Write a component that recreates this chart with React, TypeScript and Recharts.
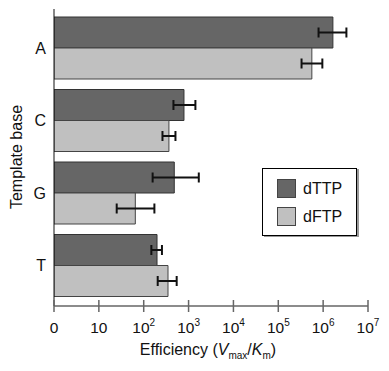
import React from "react"
import { BarChart, Bar, XAxis, YAxis, ErrorBar } from "recharts"

const categories = ["A", "C", "G", "T"]
const dTTP = [1.65e6, 790, 480, 198]
const dTTPLow = [7.9e5, 460, 158, 148]
const dTTPHigh = [3.3e6, 1420, 1690, 255]
const dFTP = [5.6e5, 365, 65, 348]
const dFTPLow = [3.3e5, 262, 25, 205]
const dFTPHigh = [9.6e5, 510, 173, 543]

const xTicks = [1, 10, 100, 1e3, 1e4, 1e5, 1e6, 1e7]
const tickBase = ["0", "10", "10", "10", "10", "10", "10", "10"]
const tickExp = ["", "", "2", "3", "4", "5", "6", "7"]

const FONT = "'Liberation Sans', Arial, Helvetica, sans-serif"
const DARK = "#666666"
const LIGHT = "#c0c0c0"

const data = categories.map((c, i) => ({
  base: c,
  dTTP: dTTP[i],
  dFTP: dFTP[i],
  errTTP: [dTTP[i] - dTTPLow[i], dTTPHigh[i] - dTTP[i]],
  errFTP: [dFTP[i] - dFTPLow[i], dFTPHigh[i] - dFTP[i]],
}))

const XTick = (props: any) => {
  const { x, y, payload } = props
  const i = xTicks.indexOf(payload.value)
  return (
    <g>
      <line x1={x} x2={x} y1={y - 6} y2={y + 6} stroke="#666" strokeWidth={1.5} />
      <text x={x} y={y + 27} textAnchor="middle" fontSize={15.5} fill="#111" fontFamily={FONT}>
        <tspan>{tickBase[i]}</tspan>
        {tickExp[i] && (
          <tspan dy={-7} fontSize={10}>{tickExp[i]}</tspan>
        )}
      </text>
    </g>
  )
}

const XLabel = (props: any) => {
  const vb = props.viewBox || {}
  const cx = vb.x + vb.width / 2 - 3
  return (
    <text x={cx} y={355} textAnchor="middle" fontSize={16} fill="#111" fontFamily={FONT}>
      <tspan>Efficiency (</tspan>
      <tspan fontStyle="italic">V</tspan>
      <tspan fontSize={10} dy={4}>max</tspan>
      <tspan dy={-4}>/</tspan>
      <tspan fontStyle="italic">K</tspan>
      <tspan fontSize={10} dy={4}>m</tspan>
      <tspan dy={-4}>)</tspan>
    </text>
  )
}

const YLabel = () => (
  <text
    x={0}
    y={0}
    transform="translate(16,157) rotate(-90)"
    textAnchor="middle"
    dominantBaseline="central"
    fontSize={16}
    fill="#111"
    fontFamily={FONT}
  >
    Template base
  </text>
)

const legendItems = [
  { name: "dTTP", color: DARK },
  { name: "dFTP", color: LIGHT },
]

export default function App() {
  return (
    <div style={{ width: 389, height: 371, background: "#fff", position: "relative" }}>
      <style>{`body{margin:0}`}</style>
      <BarChart
        width={389}
        height={371}
        data={data}
        layout="vertical"
        margin={{ top: 9, right: 21, left: 0, bottom: 0 }}
        barCategoryGap={5}
        barGap={0}
      >
        <XAxis
          type="number"
          scale="log"
          domain={[1, 1e7]}
          ticks={xTicks}
          interval={0}
          height={65}
          tickSize={0}
          tickMargin={0}
          tick={<XTick />}
          axisLine={{ stroke: "#666", strokeWidth: 1.5 }}
          label={<XLabel />}
          allowDataOverflow
        />
        <YAxis
          type="category"
          dataKey="base"
          width={54}
          padding={{ top: 3, bottom: 4 }}
          tickLine={false}
          axisLine={{ stroke: "#111" }}
          tick={{ fontSize: 16, fill: "#111", fontFamily: FONT }}
          label={<YLabel />}
        />
        <Bar dataKey="dTTP" fill={DARK} stroke="#333" strokeWidth={1} isAnimationActive={false}>
          <ErrorBar dataKey="errTTP" direction="x" width={5} stroke="#111" strokeWidth={2} />
        </Bar>
        <Bar dataKey="dFTP" fill={LIGHT} stroke="#444" strokeWidth={1} isAnimationActive={false}>
          <ErrorBar dataKey="errFTP" direction="x" width={5} stroke="#111" strokeWidth={2} />
        </Bar>
      </BarChart>
      <div
        style={{
          position: "absolute",
          left: 262,
          top: 168,
          width: 93,
          height: 66,
          border: "1px solid #000",
          boxShadow: "2px 1px 0 #999",
          background: "#fff",
          fontFamily: FONT,
          fontSize: 16,
          color: "#111",
        }}
      >
        {legendItems.map((it, i) => (
          <div key={it.name} style={{ position: "absolute", left: 14, top: 10 + i * 28, display: "flex", alignItems: "center" }}>
            <div style={{ width: 17, height: 17, background: it.color, border: "1px solid #444", marginRight: 7 }} />
            <span>{it.name}</span>
          </div>
        ))}
      </div>
    </div>
  )
}
